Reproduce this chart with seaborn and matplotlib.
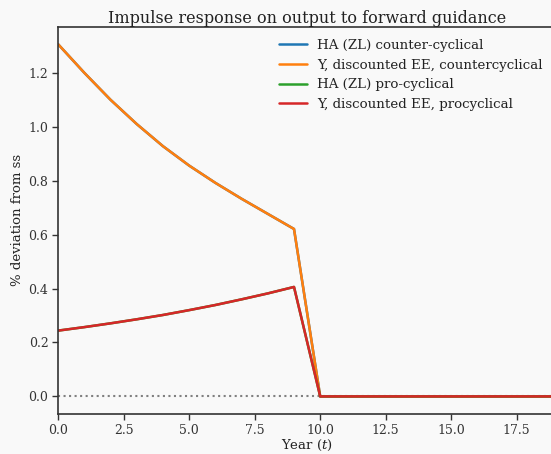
import numpy as np
import pandas as pd
import matplotlib
matplotlib.use("Agg")
import matplotlib.pyplot as plt
import seaborn as sns

# Data
years = list(range(20))
ha_counter = [1.306, 1.200, 1.100, 1.010, 0.928, 0.856, 0.792, 0.733, 0.677, 0.621,
              0, 0, 0, 0, 0, 0, 0, 0, 0, 0]
y_counter = [1.306, 1.200, 1.100, 1.010, 0.928, 0.856, 0.792, 0.733, 0.677, 0.621,
             0, 0, 0, 0, 0, 0, 0, 0, 0, 0]
ha_pro = [0.244, 0.257, 0.271, 0.286, 0.302, 0.320, 0.339, 0.360, 0.382, 0.406,
          0, 0, 0, 0, 0, 0, 0, 0, 0, 0]
y_pro = [0.244, 0.257, 0.271, 0.286, 0.302, 0.320, 0.339, 0.360, 0.382, 0.406,
         0, 0, 0, 0, 0, 0, 0, 0, 0, 0]
labels = ["HA (ZL) counter-cyclical", "Y, discounted EE, countercyclical",
          "HA (ZL) pro-cyclical", "Y, discounted EE, procyclical"]
series = [ha_counter, y_counter, ha_pro, y_pro]
colors = ["#1f77b4", "#ff7f0e", "#2ca02c", "#d62728"]
xtick_vals = [0, 2.5, 5, 7.5, 10, 12.5, 15, 17.5]
xtick_labels = ["0.0", "2.5", "5.0", "7.5", "10.0", "12.5", "15.0", "17.5"]
ytick_vals = [0, 0.2, 0.4, 0.6, 0.8, 1.0, 1.2]
ytick_labels = ["0.0", "0.2", "0.4", "0.6", "0.8", "1.0", "1.2"]

sns.set_theme(style="ticks")
plt.rcParams["font.family"] = ["DejaVu Serif"]
plt.rcParams["mathtext.fontset"] = "dejavuserif"
bg = "#f9f9f9"
plt.rcParams.update({
    "figure.facecolor": bg,
    "axes.facecolor": bg,
    "axes.edgecolor": "#333333",
    "xtick.color": "#333333",
    "ytick.color": "#333333",
    "axes.labelcolor": "#222222",
    "text.color": "#222222",
})

fig = plt.figure(figsize=(5.51, 4.54), dpi=100)
ax = fig.add_axes([0.1056, 0.0881, 0.9035, 0.8531])

ax.axhline(0, color="gray", linestyle=":", linewidth=1.5, zorder=1)
for s, lab, c in zip(series, labels, colors):
    df = pd.DataFrame({"t": years, "v": s})
    sns.lineplot(data=df, x="t", y="v", ax=ax, color=c, label=lab, linewidth=1.8)

ax.set_xlim(0, 19)
ax.set_xticks(xtick_vals)
ax.set_xticklabels(xtick_labels)
ax.set_yticks(ytick_vals)
ax.set_yticklabels(ytick_labels)
ax.tick_params(labelsize=9, length=4, width=1, pad=3)
ax.set_xlabel("Year ($t$)", fontsize=9.5, labelpad=1)
ax.set_ylabel("% deviation from ss", fontsize=9.5, labelpad=3)
ax.set_title("Impulse response on output to forward guidance", fontsize=11.5, pad=3)
for sp in ax.spines.values():
    sp.set_linewidth(1.2)

leg = ax.legend(frameon=False, fontsize=9.6, loc="upper left",
                bbox_to_anchor=(0.506, 0.914), bbox_transform=fig.transFigure,
                borderpad=0, borderaxespad=0,
                handlelength=2.1, handletextpad=0.8, labelspacing=0.5)

fig.savefig("out.png", dpi=100, facecolor=bg)
